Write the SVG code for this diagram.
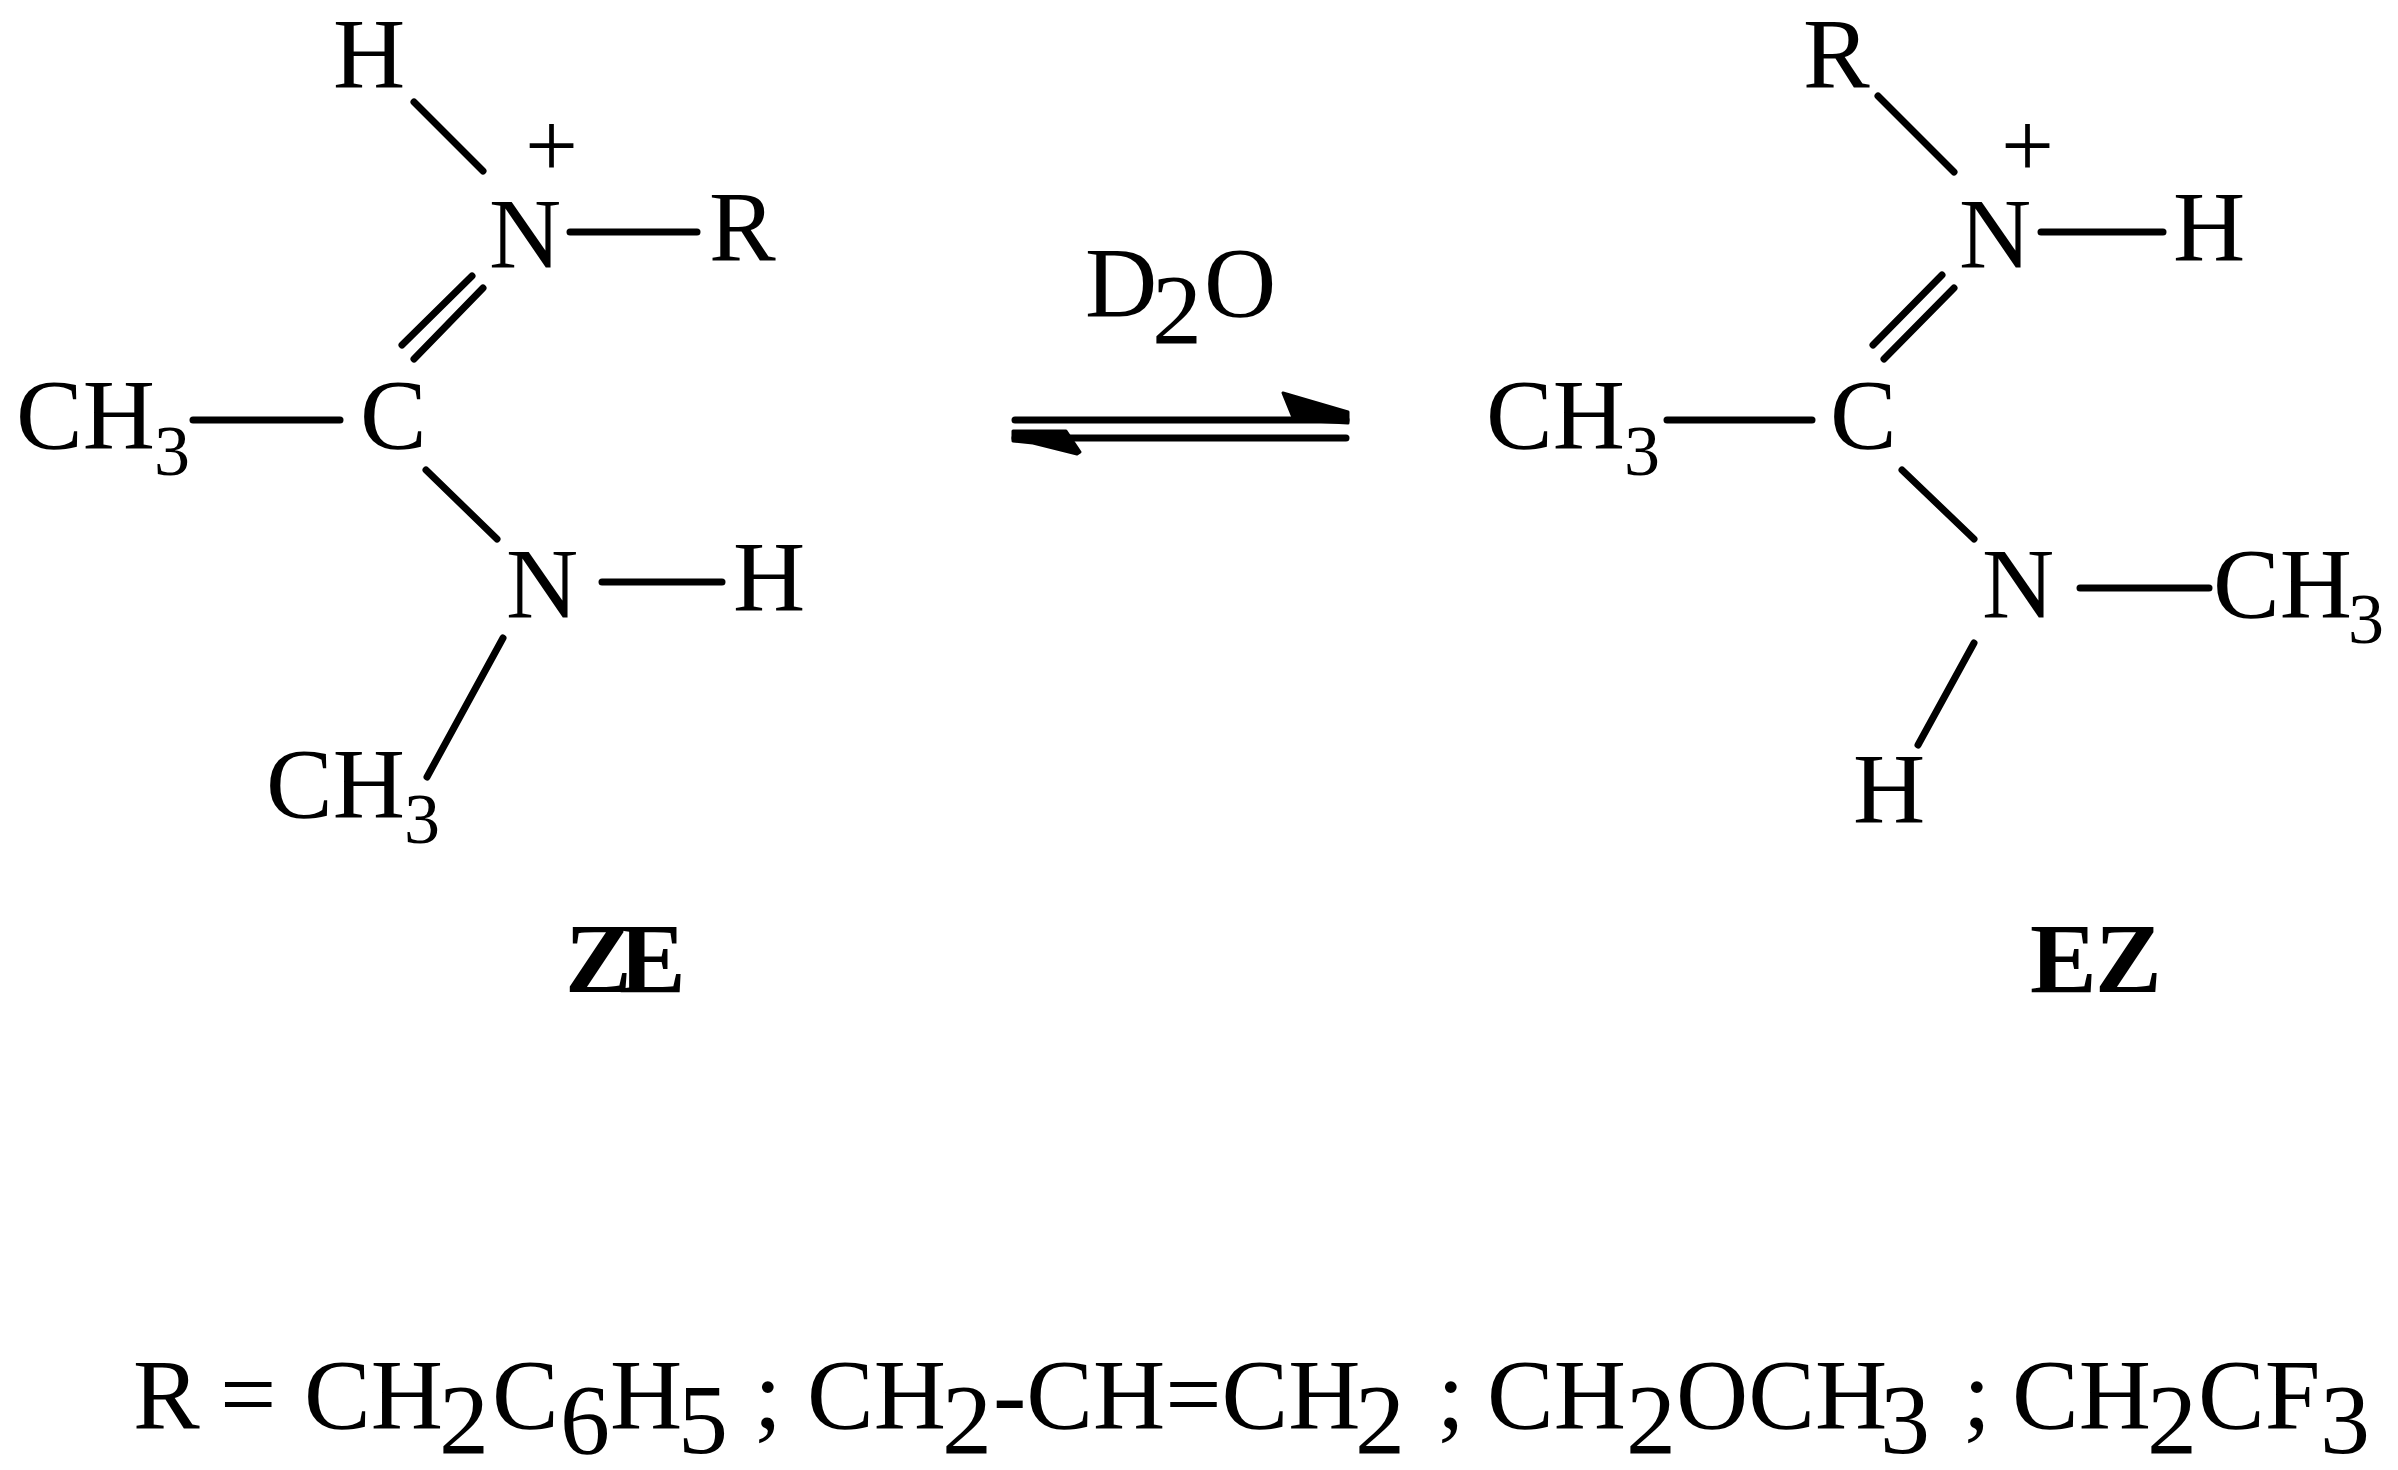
<svg xmlns="http://www.w3.org/2000/svg" width="2398" height="1470" viewBox="0 0 2398 1470">
<style>
text{font-family:"Liberation Serif","Times New Roman",serif;fill:#000}
.a{font-size:100px}
.s{font-size:72px}
.p{font-size:94px}
.b{font-size:100px;font-weight:bold}
.bond line{stroke:#000;stroke-width:7;stroke-linecap:round;fill:none}
.arrow line{stroke:#000;stroke-width:7;stroke-linecap:round}
.arrow polygon{fill:#000;stroke:#000;stroke-width:3;stroke-linejoin:round}
</style>
<rect width="2398" height="1470" fill="#fff"/>
<g id="connectors">
<g class="bond" id="bonds-ze">
<line x1="414" y1="102" x2="483" y2="171"/>
<line x1="570" y1="232" x2="697" y2="232"/>
<line x1="402" y1="345" x2="472" y2="276"/>
<line x1="414" y1="359" x2="483" y2="288"/>
<line x1="193" y1="420" x2="340" y2="420"/>
<line x1="426" y1="470" x2="497" y2="539"/>
<line x1="602" y1="582" x2="722" y2="582"/>
<line x1="503" y1="638" x2="427" y2="777"/>
</g>
<g class="bond" id="bonds-ez">
<line x1="1878" y1="96" x2="1954" y2="172"/>
<line x1="2041" y1="232" x2="2163" y2="232"/>
<line x1="1873" y1="345" x2="1942" y2="275"/>
<line x1="1884" y1="359" x2="1954" y2="288"/>
<line x1="1667" y1="420" x2="1812" y2="420"/>
<line x1="1902" y1="470" x2="1974" y2="539"/>
<line x1="2080" y1="588" x2="2209" y2="588"/>
<line x1="1974" y1="643" x2="1918" y2="745"/>
</g>
<g class="arrow" id="equilibrium-arrow">
<line x1="1015" y1="420" x2="1346" y2="420"/>
<line x1="1015" y1="438" x2="1346" y2="438"/>
<polygon points="1283,393 1348,412 1348,423 1294,420"/>
<polygon points="1013,431 1066,431 1080,452 1077,454 1033,443 1013,441"/>
</g>
</g>
<g id="node-ze">
<text class="a" x="333" y="87">H</text>
<text class="p" x="525" y="177">+</text>
<text class="a" x="489" y="267">N</text>
<text class="a" x="709" y="260">R</text>
<text class="a" x="360" y="448">C</text>
<text class="a" x="16" y="448">CH</text>
<text class="s" x="154" y="475">3</text>
<text class="a" x="506" y="617">N</text>
<text class="a" x="733" y="610">H</text>
<text class="a" x="266" y="817">CH</text>
<text class="s" x="404" y="843">3</text>
<text class="b" y="992"><tspan x="565">Z</tspan><tspan x="619">E</tspan></text>
</g>
<g id="node-reagent">
<text class="a" y="316"><tspan x="1085">D</tspan><tspan x="1152" dy="27">2</tspan><tspan x="1204" dy="-27">O</tspan></text>
</g>
<g id="node-ez">
<text class="a" x="1803" y="87">R</text>
<text class="p" x="2001" y="177">+</text>
<text class="a" x="1959" y="267">N</text>
<text class="a" x="2173" y="260">H</text>
<text class="a" x="1830" y="448">C</text>
<text class="a" x="1486" y="448">CH</text>
<text class="s" x="1624" y="475">3</text>
<text class="a" x="1982" y="617">N</text>
<text class="a" x="2213" y="617">CH</text>
<text class="s" x="2348" y="643">3</text>
<text class="a" x="1853" y="822">H</text>
<text class="b" y="992"><tspan x="2030">E</tspan><tspan x="2095">Z</tspan></text>
</g>
<g id="node-legend">
<text class="a" y="1428"><tspan x="133">R</tspan><tspan x="220">=</tspan><tspan x="304">CH</tspan><tspan x="439" dy="25">2</tspan><tspan x="492" dy="-25">C</tspan><tspan x="560" dy="25">6</tspan><tspan x="610" dy="-25">H</tspan><tspan x="678" dy="25">5</tspan><tspan x="754" dy="-25">;</tspan><tspan x="807">CH</tspan><tspan x="942" dy="25">2</tspan><tspan x="993" dy="-25">-CH=CH</tspan><tspan x="1355" dy="25">2</tspan><tspan x="1437" dy="-25">;</tspan><tspan x="1487">CH</tspan><tspan x="1626" dy="25">2</tspan><tspan x="1676" dy="-25">OCH</tspan><tspan x="1880" dy="25">3</tspan><tspan x="1963" dy="-25">;</tspan><tspan x="2012">CH</tspan><tspan x="2147" dy="25">2</tspan><tspan x="2198" dy="-25">CF</tspan><tspan x="2320" dy="25">3</tspan></text>
</g>
</svg>
